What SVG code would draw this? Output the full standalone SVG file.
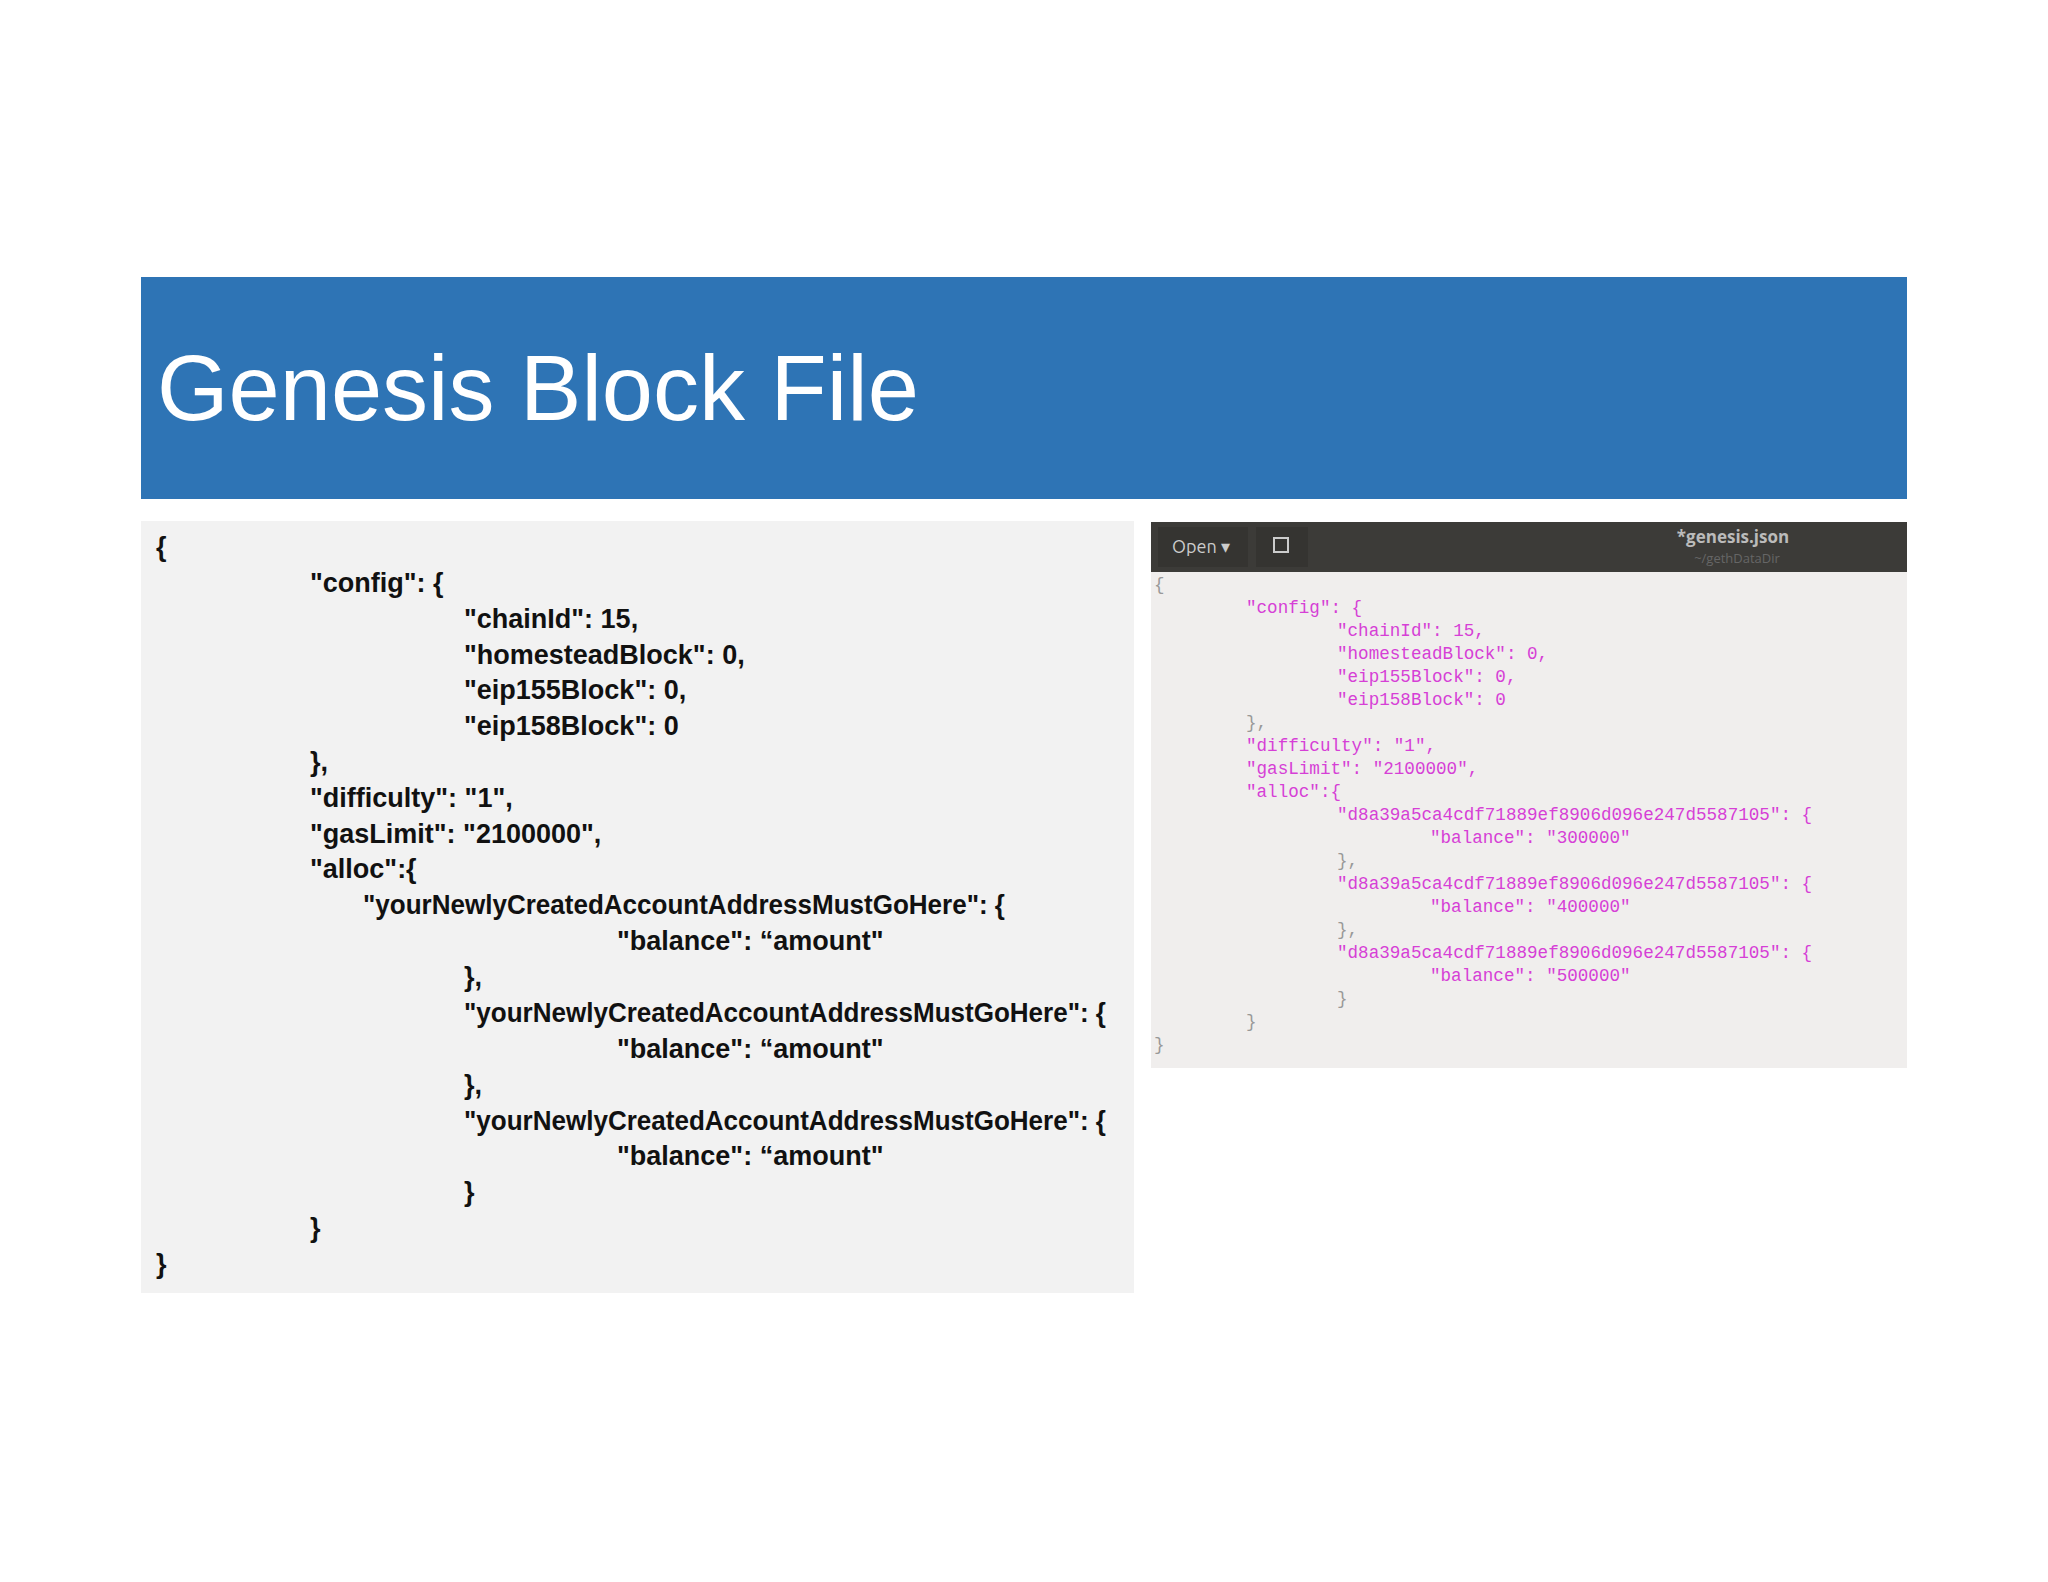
<svg xmlns="http://www.w3.org/2000/svg" width="2048" height="1582" viewBox="0 0 2048 1582">
<style>
.l{font-family:"Liberation Sans",Arial,sans-serif;font-weight:bold;font-size:27px;fill:#111}
.m{font-family:"Liberation Mono","DejaVu Sans Mono",monospace;font-size:17.6px;fill:#d63fd6}
.g{fill:#999}
</style>
<rect width="2048" height="1582" fill="#fff"/>
<g id="title">
<rect x="141" y="277" width="1766" height="222" fill="#2e74b5"/>
<text x="157" y="420" font-family="Liberation Sans,Arial,sans-serif" font-size="92" fill="#fff">Genesis Block File</text>
</g>
<g id="left-code">
<rect x="141" y="521" width="993" height="772" fill="#f2f2f2"/>
<text class="l" x="156" y="556">{</text>
<text class="l" x="310" y="592">"config": {</text>
<text class="l" x="464" y="628">"chainId": 15,</text>
<text class="l" x="464" y="664">"homesteadBlock": 0,</text>
<text class="l" x="464" y="699">"eip155Block": 0,</text>
<text class="l" x="464" y="735">"eip158Block": 0</text>
<text class="l" x="310" y="771">},</text>
<text class="l" x="310" y="807">"difficulty": "1",</text>
<text class="l" x="310" y="843">"gasLimit": "2100000",</text>
<text class="l" x="310" y="878">"alloc":{</text>
<text class="l" x="363" y="914" textLength="642" lengthAdjust="spacingAndGlyphs">"yourNewlyCreatedAccountAddressMustGoHere": {</text>
<text class="l" x="617" y="950">"balance": “amount"</text>
<text class="l" x="464" y="986">},</text>
<text class="l" x="464" y="1022" textLength="642" lengthAdjust="spacingAndGlyphs">"yourNewlyCreatedAccountAddressMustGoHere": {</text>
<text class="l" x="617" y="1058">"balance": “amount"</text>
<text class="l" x="464" y="1094">},</text>
<text class="l" x="464" y="1130" textLength="642" lengthAdjust="spacingAndGlyphs">"yourNewlyCreatedAccountAddressMustGoHere": {</text>
<text class="l" x="617" y="1165">"balance": “amount"</text>
<text class="l" x="464" y="1201">}</text>
<text class="l" x="310" y="1237">}</text>
<text class="l" x="156" y="1273">}</text>
</g>
<g id="right-screenshot">
<rect x="1151" y="522" width="756" height="546" fill="#f0eeed"/>
<rect x="1151" y="522" width="756" height="50" fill="#3c3b38"/>
<rect x="1158" y="527" width="90" height="40" fill="#353431"/>
<rect x="1256" y="527" width="52" height="40" fill="#353431"/>
<text x="1172" y="553" font-family="Ubuntu,'Open Sans',sans-serif" font-size="18" fill="#ccc">Open ▾</text>
<rect x="1274" y="538" width="14" height="14" fill="none" stroke="#ccc" stroke-width="2"/>
<text x="1733" y="543" text-anchor="middle" font-family="'Open Sans',sans-serif" font-size="17" font-weight="bold" fill="#bbb">*genesis.json</text>
<text x="1737" y="563" text-anchor="middle" font-family="'Open Sans',sans-serif" font-size="13" fill="#666">~/gethDataDir</text>
<text class="m g" x="1154" y="590">{</text>
<text class="m" x="1246" y="613">"config": {</text>
<text class="m" x="1337" y="636">"chainId": 15,</text>
<text class="m" x="1337" y="659">"homesteadBlock": 0,</text>
<text class="m" x="1337" y="682">"eip155Block": 0,</text>
<text class="m" x="1337" y="705">"eip158Block": 0</text>
<text class="m g" x="1246" y="728">},</text>
<text class="m" x="1246" y="751">"difficulty": "1",</text>
<text class="m" x="1246" y="774">"gasLimit": "2100000",</text>
<text class="m" x="1246" y="797">"alloc":{</text>
<text class="m" x="1337" y="820">"d8a39a5ca4cdf71889ef8906d096e247d5587105": {</text>
<text class="m" x="1430" y="843">"balance": "300000"</text>
<text class="m g" x="1337" y="866">},</text>
<text class="m" x="1337" y="889">"d8a39a5ca4cdf71889ef8906d096e247d5587105": {</text>
<text class="m" x="1430" y="912">"balance": "400000"</text>
<text class="m g" x="1337" y="935">},</text>
<text class="m" x="1337" y="958">"d8a39a5ca4cdf71889ef8906d096e247d5587105": {</text>
<text class="m" x="1430" y="981">"balance": "500000"</text>
<text class="m g" x="1337" y="1004">}</text>
<text class="m g" x="1246" y="1027">}</text>
<text class="m g" x="1154" y="1050">}</text>
</g>
</svg>
